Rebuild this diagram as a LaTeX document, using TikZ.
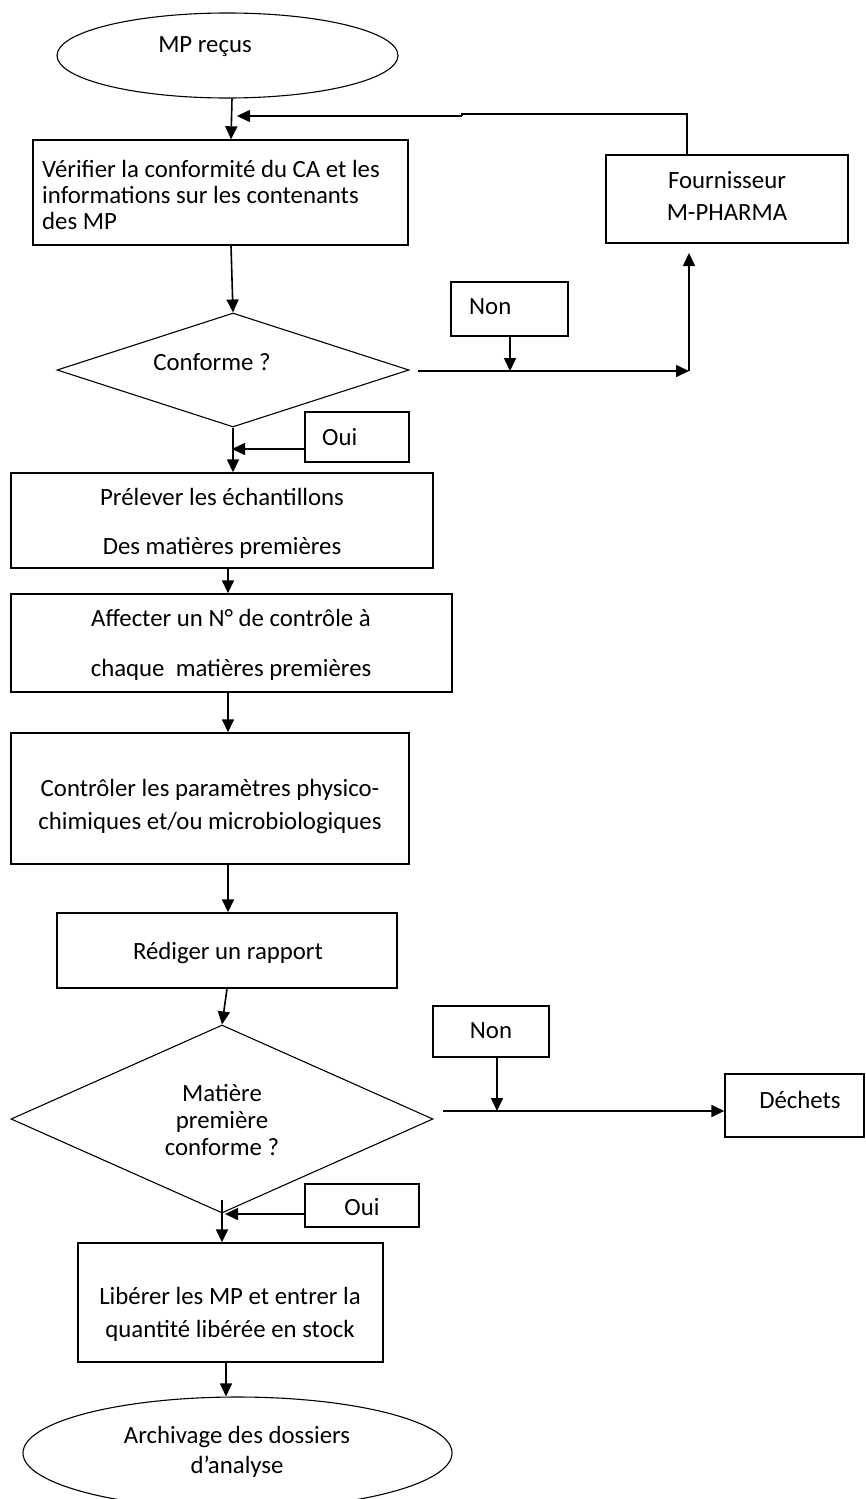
\documentclass[tikz,border=0pt]{standalone}
\usepackage{fontspec}
\setmainfont{Carlito}
\usetikzlibrary{shapes.geometric,arrows.meta,calc}
\begin{document}
\begin{tikzpicture}[x=1pt,y=-1pt,
  box/.style={draw,line width=1.4pt,rectangle,inner sep=0pt},
  dia/.style={draw,line width=1.1pt,diamond,inner sep=0pt},
  ell/.style={draw,line width=1.1pt,ellipse,inner sep=0pt},
  txt/.style={inner sep=0pt,font=\fontsize{24.8}{29}\selectfont},
  arr/.style={line width=1.6pt,-{Triangle[length=13pt,width=12pt]}},
  ln/.style={line width=1.6pt}]
\useasboundingbox (0,0) rectangle (865,1499);
\fill[white] (0,0) rectangle (865,1499);
% shapes
\node[ell,minimum width=341pt,minimum height=85pt] (e1) at (227.5,55.5) {};
\node[box,minimum width=375pt,minimum height=105pt] (b1) at (220.5,192.5) {};
\node[box,minimum width=242pt,minimum height=88pt] (f) at (727,199) {};
\node[box,minimum width=117pt,minimum height=54pt] (n1) at (509.5,309) {};
\node[dia,minimum width=352pt,minimum height=114pt] (d1) at (233,370) {};
\node[box,minimum width=104pt,minimum height=50pt] (o1) at (357,437) {};
\node[box,minimum width=422pt,minimum height=95pt] (b2) at (222,520.5) {};
\node[box,minimum width=441pt,minimum height=98pt] (b3) at (231.5,643) {};
\node[box,minimum width=398pt,minimum height=131pt] (b4) at (210,798.5) {};
\node[box,minimum width=340pt,minimum height=75pt] (b5) at (227,950.5) {};
\node[box,minimum width=116pt,minimum height=51pt] (n2) at (491,1031.5) {};
\node[dia,minimum width=422pt,minimum height=188pt] (d2) at (222,1119) {};
\node[box,minimum width=139pt,minimum height=63pt] (dech) at (794.5,1105.5) {};
\node[box,minimum width=114pt,minimum height=43pt] (o2) at (362,1205.5) {};
\node[box,minimum width=305pt,minimum height=119pt] (b6) at (230.5,1302.5) {};
\node[ell,minimum width=429pt,minimum height=112pt] (e2) at (237.5,1453) {};
% texts
\node[txt] (e1t) at (205,47) {MP reçus};
\node[txt,anchor=west,align=left,font=\fontsize{24.8}{26}\selectfont] (b1t) at (42,195) {Vérifier la conformité du CA et les\\informations sur les contenants\\des MP};
\node[txt,align=center,font=\fontsize{24.8}{32}\selectfont] (ft) at (727,196) {Fournisseur\\M-PHARMA};
\node[txt,anchor=west] (n1t) at (469,307) {Non};
\node[txt] (d1t) at (212,362) {Conforme ?};
\node[txt,anchor=west] (o1t) at (322,437) {Oui};
\node[txt,align=center,font=\fontsize{24.8}{49}\selectfont] (b2t) at (222,523.5) {Prélever les échantillons\\Des matières premières};
\node[txt,align=center,font=\fontsize{24.8}{50}\selectfont] (b3t) at (231,645) {Affecter un N° de contrôle à\\chaque\ \ matières premières};
\node[txt,align=center,font=\fontsize{24.8}{33}\selectfont] (b4t) at (210,806.5) {Contrôler les paramètres physico-\\chimiques et/ou microbiologiques};
\node[txt] (b5t) at (228,953) {Rédiger un rapport};
\node[txt] (n2t) at (491,1031) {Non};
\node[txt,align=center,font=\fontsize{24.8}{27}\selectfont] (d2t) at (222,1120) {Matière\\première\\conforme ?};
\node[txt] (decht) at (800,1100) {Déchets};
\node[txt] (o2t) at (362,1207) {Oui};
\node[txt,align=center,font=\fontsize{24.8}{33}\selectfont] (b6t) at (230,1314.5) {Libérer les MP et entrer la\\quantité libérée en stock};
\node[txt,align=center,font=\fontsize{24.8}{30}\selectfont] (e2t) at (237,1452) {Archivage des dossiers\\d’analyse};
% coordinates
\coordinate (fb1) at (687,114);
\coordinate (fb2) at (462,114);
\coordinate (fb3) at (462,116);
\coordinate (fb4) at (237,116);
\coordinate (k1s) at (418,371);
\coordinate (k1) at (689,371);
\coordinate (k1t) at (689,253);
\coordinate (oy1) at (232,449);
\coordinate (k2s) at (443,1111);
\coordinate (v2s) at (222,1200);
\coordinate (oy2) at (225,1214);
% connectors
\draw[arr] ([xshift=4.5pt]e1.south) -- ([xshift=10.5pt]b1.north);
\draw[ln] ([xshift=-40pt]f.north) -- (fb1) -- (fb2) -- (fb3);
\draw[arr] (fb3) -- (fb4);
\draw[arr] ([xshift=10.5pt]b1.south) -- (d1.north);
\draw[arr] (k1s) -- (k1);
\draw[arr] (k1) -- (k1t);
\draw[arr] ([xshift=0.5pt]n1.south) -- ([xshift=0.5pt]n1.south |- k1);
\draw[arr] ([yshift=-12pt]o1.west) -- (oy1);
\draw[arr] (d1.south) -- (d1.south |- b2.north);
\draw[arr] ([xshift=6pt]b2.south) -- ([xshift=6pt]b2.south |- b3.north);
\draw[arr] ([xshift=-3.5pt]b3.south) -- ([xshift=-3.5pt]b3.south |- b4.north);
\draw[arr] ([xshift=18pt]b4.south) -- ([xshift=18pt]b4.south |- b5.north);
\draw[arr] (b5.south) -- (d2.north);
\draw[arr] (k2s) -- (k2s -| dech.west);
\draw[arr] ([xshift=6pt]n2.south) -- ([xshift=6pt]n2.south |- k2s);
\draw[arr] ([yshift=-8.5pt]o2.west) -- (oy2);
\draw[arr] (v2s) -- (v2s |- b6.north);
\draw[arr] ([xshift=-4.5pt]b6.south) -- ([xshift=-4.5pt]b6.south |- e2.north);
\end{tikzpicture}
\end{document}
